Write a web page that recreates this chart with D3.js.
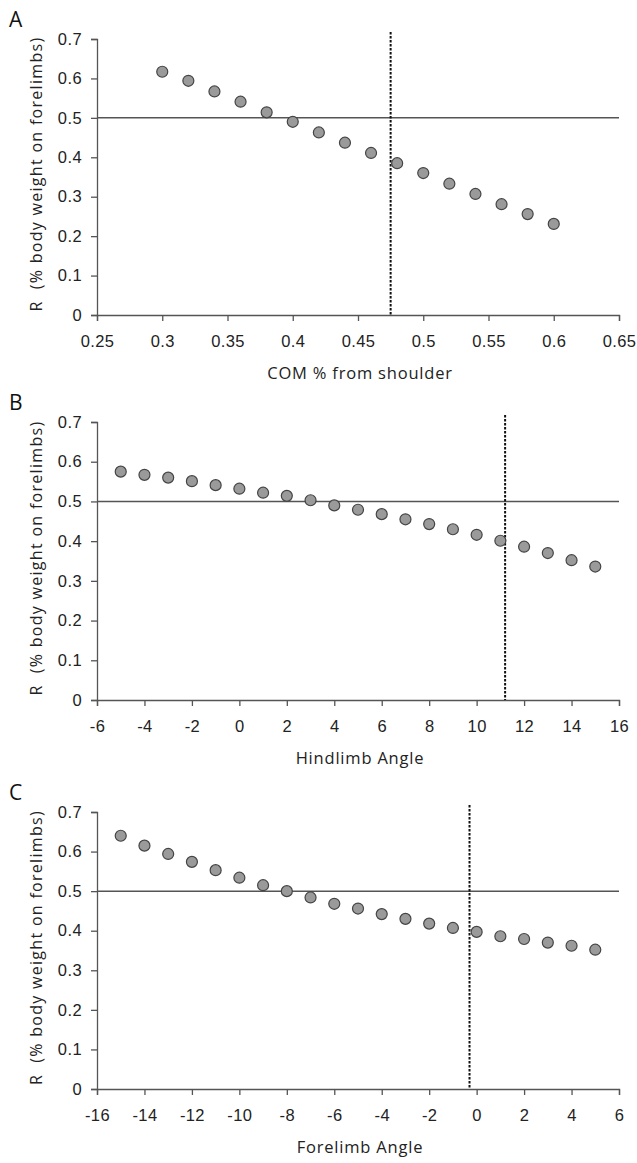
<!DOCTYPE html>
<html>
<head>
<meta charset="utf-8">
<script src="https://cdn.jsdelivr.net/npm/d3@7"></script>
<style>
  body { margin: 0; background: #fff; }
  svg { display: block; font-family: "Open Sans", "Liberation Sans", sans-serif; }
  .axis path, .axis line { stroke: #555; stroke-width: 1.3; }
  .axis text { fill: #222; font-size: 16.5px; letter-spacing: 0.4px; }
</style>
</head>
<body>
<div id="chart"></div>
<script>
// panel A: centre of mass position
var comX = [0.30, 0.32, 0.34, 0.36, 0.38, 0.40, 0.42, 0.44, 0.46, 0.48, 0.50, 0.52, 0.54, 0.56, 0.58, 0.60];
var comR = [0.617, 0.594, 0.567, 0.541, 0.514, 0.490, 0.463, 0.437, 0.411, 0.385, 0.360, 0.333, 0.307, 0.281, 0.256, 0.231];
var comTicks = [0.25, 0.3, 0.35, 0.4, 0.45, 0.5, 0.55, 0.6, 0.65];
var comMark = 0.475;

// panel B: hindlimb angle
var hindX = [-5, -4, -3, -2, -1, 0, 1, 2, 3, 4, 5, 6, 7, 8, 9, 10, 11, 12, 13, 14, 15];
var hindR = [0.575, 0.567, 0.560, 0.551, 0.541, 0.532, 0.522, 0.514, 0.503, 0.490, 0.479, 0.468, 0.455, 0.443, 0.430, 0.416, 0.401, 0.386, 0.370, 0.352, 0.336];
var hindTicks = [-6, -4, -2, 0, 2, 4, 6, 8, 10, 12, 14, 16];
var hindMark = 11.2;

// panel C: forelimb angle
var foreX = [-15, -14, -13, -12, -11, -10, -9, -8, -7, -6, -5, -4, -3, -2, -1, 0, 1, 2, 3, 4, 5];
var foreR = [0.640, 0.615, 0.594, 0.574, 0.553, 0.534, 0.515, 0.500, 0.484, 0.468, 0.456, 0.442, 0.430, 0.418, 0.407, 0.397, 0.386, 0.379, 0.370, 0.362, 0.352];
var foreTicks = [-16, -14, -12, -10, -8, -6, -4, -2, 0, 2, 4, 6];
var foreMark = -0.3;

var rTicks = [0, 0.1, 0.2, 0.3, 0.4, 0.5, 0.6, 0.7];
var rLine = 0.5;
var yTitle = "R  (% body weight on forelimbs)";

var width = 637, height = 1163;
var svg = d3.select("#chart").append("svg")
    .attr("width", width)
    .attr("height", height);

var panels = [
  {letter: "A", xs: comX, ys: comR, ticks: comTicks, mark: comMark, title: "COM % from shoulder",
   top: 39, bottom: 315, fmt: function(d) { return String(+d.toFixed(2)); }},
  {letter: "B", xs: hindX, ys: hindR, ticks: hindTicks, mark: hindMark, title: "Hindlimb Angle",
   top: 422, bottom: 700, fmt: function(d) { return String(d); }},
  {letter: "C", xs: foreX, ys: foreR, ticks: foreTicks, mark: foreMark, title: "Forelimb Angle",
   top: 812, bottom: 1089, fmt: function(d) { return String(d); }}
];

var left = 97, right = 619;

panels.forEach(function(p) {
  var g = svg.append("g");
  var x = d3.scaleLinear()
      .domain([p.ticks[0], p.ticks[p.ticks.length - 1]])
      .range([left, right]);
  var y = d3.scaleLinear().domain([0, 0.7]).range([p.bottom, p.top]);

  // axes
  g.append("g")
      .attr("class", "axis")
      .attr("transform", "translate(0," + p.bottom + ")")
      .call(d3.axisBottom(x).tickValues(p.ticks).tickSize(6).tickSizeOuter(6).tickPadding(14).tickFormat(p.fmt));
  g.append("g")
      .attr("class", "axis")
      .attr("transform", "translate(" + left + ",0)")
      .call(d3.axisLeft(y).tickValues(rTicks).tickSize(6).tickSizeOuter(6).tickPadding(9)
        .tickFormat(function(d) { return d === 0 ? "0" : d3.format(".1f")(d); }));

  // reference lines
  g.append("line")
      .attr("x1", left).attr("x2", right)
      .attr("y1", y(rLine)).attr("y2", y(rLine))
      .attr("stroke", "#555").attr("stroke-width", 1.5);
  g.append("line")
      .attr("x1", x(p.mark)).attr("x2", x(p.mark))
      .attr("y1", p.top - 7).attr("y2", p.bottom)
      .attr("stroke", "#111").attr("stroke-width", 2)
      .attr("stroke-dasharray", "2.5,1.5");

  // points
  g.selectAll(".pt")
    .data(p.xs)
    .enter().append("circle")
      .attr("class", "pt")
      .attr("cx", function(d) { return x(d); })
      .attr("cy", function(d, i) { return y(p.ys[i]); })
      .attr("r", 5.5)
      .attr("fill", "#9a9a9a")
      .attr("stroke", "#444")
      .attr("stroke-width", 1.2);

  // labels
  g.append("text")
      .attr("x", 9).attr("y", p.top - 12)
      .attr("font-size", 21)
      .attr("fill", "#111")
      .text(p.letter);
  g.append("text")
      .attr("transform", "translate(42," + ((p.top + p.bottom) / 2 - 3) + ") rotate(-90)")
      .attr("text-anchor", "middle")
      .attr("font-size", 16)
      .attr("letter-spacing", 1.3)
      .attr("fill", "#222")
      .attr("xml:space", "preserve")
      .text(yTitle);
  g.append("text")
      .attr("x", (left + right) / 2 + 2)
      .attr("y", p.bottom + 64)
      .attr("text-anchor", "middle")
      .attr("font-size", 16.5)
      .attr("letter-spacing", 0.8)
      .attr("fill", "#222")
      .text(p.title);
});
</script>
</body>
</html>
